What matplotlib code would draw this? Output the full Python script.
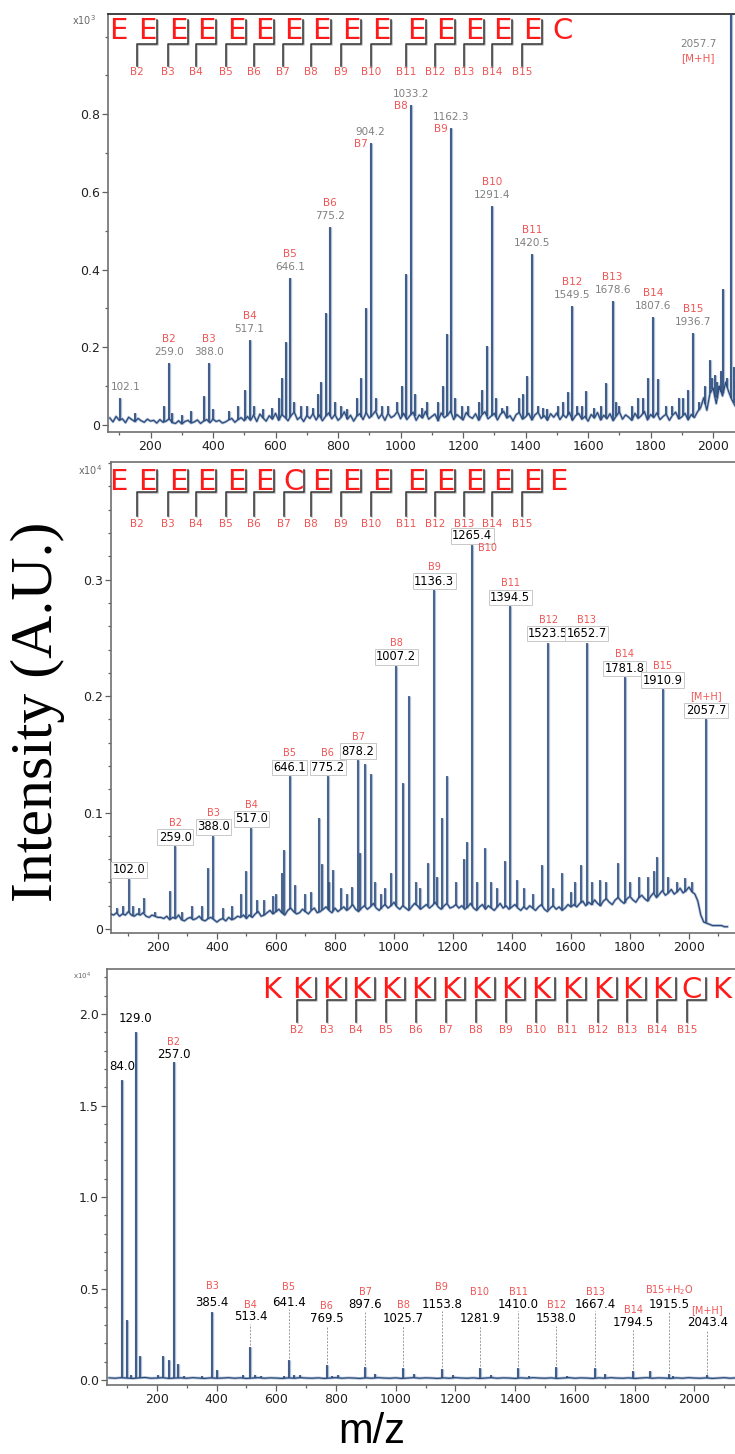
import numpy as np
import matplotlib
matplotlib.use("Agg")
import matplotlib.pyplot as plt
import matplotlib.patheffects as pe
import matplotlib.transforms as mtrans
from matplotlib.lines import Line2D
from matplotlib.ticker import MultipleLocator

# ---------------- panel A : EEEEEEEEEEEEEEEC (x10^3) ----------------
seq_a = "EEEEEEEEEEEEEEEC"
base_a_start, base_a_step = 70, 10
base_a = [18, 8, 22, 12, 16, 6, 20, 14, 9, 17, 11, 7, 15, 10,
          12, 5, 14, 7, 10, 16, 6, 4, 11, 3, 9, 12, 5, 8, 13, 4, 10, 14, 6, 15, 9, 12, 5, 8, 13, 17, 7, 14, 19, 11,
          22, 12, 26, 9, 28, 18, 10, 24, 15, 30, 12, 27, 20, 11, 25, 33, 14, 21, 9, 24, 17, 29, 13, 26, 11,
          22, 31, 16, 27, 12, 20, 34, 15, 25, 10, 23, 29, 14, 32, 18, 26, 36, 17, 28, 12, 30, 19, 24, 35, 16,
          30, 14, 24, 33, 12, 26, 18, 35, 15, 22, 28, 11, 31, 19, 25, 36, 14, 27, 20, 13, 32, 22, 17, 29, 12,
          26, 34, 16, 23, 30, 13, 28, 35, 18, 24, 11, 27, 32, 15, 21, 30, 13, 26, 33, 17, 24, 12, 29, 20, 31,
          14, 26, 19, 33, 12, 24, 30, 15, 22, 10, 27, 18, 32, 13, 25, 16, 29, 11, 23, 34, 15, 26, 20, 12, 30,
          17, 24, 35, 13, 27, 19, 31, 14, 22, 28, 12, 25, 33, 16, 21, 30, 13, 27, 19, 34,
          45, 70, 38, 82, 95, 55, 100, 75, 110, 85, 65, 50]
pk_a_mz = [150, 244, 270, 300, 330, 372, 400, 450, 480, 502, 530, 560, 590, 610, 620, 632, 660, 680,
           700, 720, 735, 745, 760, 790, 810, 830, 860, 875, 889, 920, 940, 960, 990, 1005, 1018, 1045,
           1070, 1085, 1120, 1135, 1147, 1175, 1195, 1215, 1250, 1262, 1276, 1305, 1325, 1340, 1380,
           1392, 1405, 1440, 1455, 1470, 1505, 1520, 1535, 1565, 1580, 1594, 1620, 1640, 1657, 1690,
           1700, 1740, 1760, 1775, 1792, 1823, 1850, 1870, 1890, 1905, 1921, 1955, 1975, 1990, 1998,
           2006, 2013, 2020, 2026, 2032, 2045, 2057.7, 2066]
pk_a_h = [0.03, 0.05, 0.03, 0.025, 0.035, 0.075, 0.04, 0.035, 0.05, 0.09, 0.05, 0.04, 0.045, 0.07,
          0.12, 0.214, 0.06, 0.05, 0.05, 0.045, 0.08, 0.11, 0.288, 0.06, 0.05, 0.04, 0.07, 0.12, 0.30,
          0.07, 0.05, 0.05, 0.06, 0.10, 0.39, 0.08, 0.045, 0.06, 0.06, 0.10, 0.234, 0.07, 0.05, 0.05,
          0.06, 0.09, 0.203, 0.07, 0.045, 0.05, 0.07, 0.08, 0.126, 0.05, 0.045, 0.04, 0.05, 0.06, 0.085,
          0.05, 0.05, 0.087, 0.045, 0.05, 0.108, 0.06, 0.05, 0.05, 0.07, 0.07, 0.12, 0.118, 0.05, 0.05,
          0.07, 0.07, 0.09, 0.06, 0.10, 0.167, 0.12, 0.13, 0.11, 0.09, 0.14, 0.35, 0.12, 1.25, 0.15]
lab_a_mz = [102.1, 259.0, 388.0, 517.1, 646.1, 775.2, 904.2, 1033.2, 1162.3, 1291.4, 1420.5,
            1549.5, 1678.6, 1807.6, 1936.7]
lab_a_h = [0.07, 0.16, 0.16, 0.22, 0.378, 0.51, 0.726, 0.824, 0.764, 0.564, 0.44, 0.306, 0.319,
           0.278, 0.237]
lab_a_ion = ["", "B2", "B3", "B4", "B5", "B6", "B7", "B8", "B9", "B10", "B11", "B12", "B13", "B14", "B15"]

# ---------------- panel B : EEEEEECEEEEEEEEE (x10^4) ----------------
seq_b = "EEEEEECEEEEEEEEE"
base_b_start, base_b_step = 40, 10
base_b = [13, 12, 14, 11, 13, 12, 15, 12, 11, 13, 12, 14, 11, 10, 12, 11, 10,
          10, 9, 11, 8, 10, 9, 12, 8, 7, 9, 10, 8, 9, 11, 8, 7, 9, 10, 8, 6, 8, 9, 7, 10, 8, 9, 11, 10, 12, 9,
          12, 10, 13, 15, 11, 12, 14, 16, 13, 15, 17, 14, 12, 16, 18, 15, 13, 14, 17, 15, 13, 16, 18, 14,
          15, 17, 19, 16, 14, 18,
          15, 17, 19, 16, 18, 21, 17, 15, 18, 20, 17, 19, 22, 18, 16, 19, 21, 18, 20, 23, 19, 17, 20, 18,
          16, 19, 22, 20, 17, 19, 21, 18, 20, 23, 19, 17, 20, 22, 18, 19,
          21, 18, 20, 17, 19, 22, 18, 16, 19, 21, 17, 20, 18, 16, 19, 22, 18, 20, 17, 19, 21, 18, 16, 19,
          17, 20, 18, 16, 19, 21, 17, 15, 18, 20, 17, 19, 16, 18, 21, 19,
          21, 19, 22, 24, 20, 23, 21, 25, 22, 20, 24, 26, 23, 21, 25, 27, 24, 22, 26, 28, 25, 23, 27, 29,
          26, 24, 28, 31, 27, 30, 33, 29, 31, 34, 30, 32, 35, 31, 33, 36, 32, 30,
          24, 12, 6, 5, 4, 3, 3, 3, 3, 2, 2]
pk_b_mz = [60, 80, 116, 135, 152, 190, 241, 280, 317, 350, 369, 420, 450, 481, 498, 536, 560, 590,
           600, 620, 627, 664, 700, 720, 747, 755, 780, 793, 820, 840, 858, 884, 902, 922, 935, 955,
           970, 990, 1031, 1051, 1075, 1090, 1115, 1145, 1162, 1180, 1210, 1236, 1246, 1280, 1308,
           1330, 1350, 1376, 1416, 1440, 1470, 1502, 1540, 1568, 1600, 1615, 1633, 1670, 1699, 1720,
           1759, 1800, 1830, 1860, 1880, 1893, 1930, 1960, 1985, 2010]
pk_b_h = [0.018, 0.02, 0.02, 0.018, 0.027, 0.015, 0.033, 0.015, 0.02, 0.02, 0.052, 0.018, 0.02,
          0.030, 0.050, 0.025, 0.025, 0.028, 0.03, 0.048, 0.068, 0.038, 0.03, 0.032, 0.095, 0.056, 0.04,
          0.051, 0.035, 0.03, 0.036, 0.065, 0.142, 0.133, 0.04, 0.03, 0.035, 0.048, 0.125, 0.20, 0.04,
          0.035, 0.057, 0.045, 0.095, 0.131, 0.04, 0.06, 0.075, 0.04, 0.07, 0.04, 0.035, 0.058, 0.042,
          0.035, 0.03, 0.055, 0.035, 0.048, 0.032, 0.04, 0.055, 0.04, 0.042, 0.04, 0.057, 0.04, 0.045,
          0.045, 0.05, 0.062, 0.045, 0.04, 0.044, 0.04]
lab_b_mz = [102.0, 259.0, 388.0, 517.0, 646.1, 775.2, 878.2, 1007.2, 1136.3, 1265.4, 1394.5,
            1523.5, 1652.7, 1781.8, 1910.9, 2057.7]
lab_b_h = [0.043, 0.071, 0.080, 0.087, 0.131, 0.131, 0.145, 0.226, 0.291, 0.33, 0.277, 0.246,
           0.246, 0.216, 0.206, 0.180]
lab_b_ion = ["", "B2", "B3", "B4", "B5", "B6", "B7", "B8", "B9", "B10", "B11", "B12", "B13", "B14",
             "B15", "[M+H]"]

# ---------------- panel C : KKKKKKKKKKKKKKCK (x10^4) ----------------
seq_c = "KKKKKKKKKKKKKKCK"
base_c_start, base_c_step = 40, 20
base_c = [12, 10, 13, 11, 9, 12, 14, 10, 11, 13, 9, 11, 12, 10, 13, 11, 9, 12, 10, 11, 13, 10, 12, 9,
          11, 13, 10, 12, 11, 9, 12, 10, 13, 11, 10, 12, 9, 11, 13, 10, 12, 11, 9, 12, 10, 13, 11, 10,
          12, 9, 11, 13, 10, 12, 11, 9, 12, 10, 13, 11, 10, 12, 9, 11, 13, 10, 12, 11, 9, 12, 10, 13,
          11, 10, 12, 9, 11, 13, 10, 12, 11, 9, 12, 10, 13, 11, 10, 12, 9, 11, 13, 10, 12, 11, 9, 12,
          10, 13, 11, 10, 12, 9, 11, 13, 10, 12]
pk_c_mz = [100, 112, 145, 205, 220, 240, 270, 290, 350, 402, 490, 530, 550, 625, 660, 680, 785, 805,
           930, 1060, 1190, 1320, 1445, 1575, 1700, 1850, 1930]
pk_c_h = [0.33, 0.03, 0.13, 0.03, 0.13, 0.11, 0.09, 0.02, 0.02, 0.055, 0.03, 0.03, 0.02, 0.02, 0.025,
          0.025, 0.02, 0.03, 0.035, 0.035, 0.03, 0.03, 0.02, 0.02, 0.035, 0.05, 0.02]
lab_c_mz = [84.0, 129.0, 257.0, 385.4, 513.4, 641.4, 769.5, 897.6, 1025.7, 1153.8, 1281.9, 1410.0,
            1538.0, 1667.4, 1794.5, 1915.5, 2043.4]
lab_c_h = [1.64, 1.90, 1.74, 0.37, 0.18, 0.11, 0.082, 0.07, 0.065, 0.06, 0.065, 0.065, 0.07, 0.065,
           0.05, 0.035, 0.025]
lab_c_ion = ["", "", "B2", "B3", "B4", "B5", "B6", "B7", "B8", "B9", "B10", "B11", "B12", "B13",
             "B14", r"B15+H$_2$O", "[M+H]"]

xtick_vals = [200, 400, 600, 800, 1000, 1200, 1400, 1600, 1800, 2000]

# ---------------- layout (pixels of the 735 x 1454 canvas) ----------------
W, H = 735, 1454
LINE = "#2b4b7c"
HALO = "#9fb1cb"
RED_ION = "#f05555"
RED_SEQ = "#ff1a1a"
GREY = "#808080"

fig = plt.figure(figsize=(W / 100, H / 100), dpi=100)


def fx(px):
    return px / W


def fy(py):
    return 1 - py / H


def add_axes(l, t, r, b):
    return fig.add_axes([fx(l), fy(b), fx(r) - fx(l), fy(t) - fy(b)])


def style(ax, xlim, ylim, yticks, ylabels, yminor):
    ax.set_xlim(*xlim)
    ax.set_ylim(*ylim)
    ax.set_xticks(xtick_vals)
    ax.xaxis.set_minor_locator(MultipleLocator(100))
    ax.set_yticks(yticks)
    ax.set_yticklabels(ylabels)
    ax.yaxis.set_minor_locator(MultipleLocator(yminor))
    ax.spines["right"].set_visible(False)
    for s in ("left", "bottom", "top"):
        ax.spines[s].set_color("#707070")
        ax.spines[s].set_linewidth(1.2)
    ax.tick_params(which="both", direction="out", color="#606060", labelcolor="#222222",
                   labelsize=9, width=0.9, pad=2)
    ax.tick_params(which="major", length=4)
    ax.tick_params(which="minor", length=2.5)


def draw_spectrum(ax, start, step, base, pk_mz, pk_h, lab_mz, lab_h, lw=1.1):
    bx = start + step * np.arange(len(base))
    by = np.array(base) / 1000.0
    mz = np.concatenate([pk_mz, lab_mz])
    h = np.concatenate([pk_h, lab_h])
    y0 = np.interp(mz, bx, by)
    ax.plot(bx, by, color=HALO, lw=2.0, zorder=2, alpha=0.8)
    ax.vlines(mz, y0, h, color=HALO, lw=lw + 1.2, zorder=2, alpha=0.8)
    ax.plot(bx, by, color=LINE, lw=0.9, zorder=3)
    ax.vlines(mz, y0, h, color=LINE, lw=lw, zorder=3)


def header(seq, xs, yc, fs, bar_dx, drop_dx, y_top, y_mid, y_bot, y_lab, skip_last=True):
    shadow = [pe.SimpleLineShadow(offset=(1.0, -1.0), shadow_color="#aaaaaa", alpha=0.8), pe.Normal()]
    for i, (ch, x) in enumerate(zip(seq, xs)):
        fig.text(fx(x), fy(yc), ch, color=RED_SEQ, fontsize=fs, ha="center", va="center",
                 family=["Liberation Sans Narrow", "DejaVu Sans"])
        if i == 0 or (skip_last and i == len(seq) - 1):
            continue
        xb, xd = x + bar_dx, x + drop_dx
        ln = Line2D([fx(xb), fx(xb), fx(xd), fx(xd)], [fy(y_top), fy(y_mid), fy(y_mid), fy(y_bot)],
                    color="#333333", lw=1.1, path_effects=shadow)
        fig.add_artist(ln)
        fig.text(fx(xd), fy(y_lab), "B%d" % (i + 1), color=RED_ION, fontsize=7.5, ha="center",
                 va="center")


PT = 0.72  # points per pixel at dpi 100

# ---------------- panel A ----------------
ax1 = add_axes(108, 14, 735, 432)
style(ax1, (64, 2070), (-0.018, 1.058), [0, 0.2, 0.4, 0.6, 0.8], ["0", "0.2", "0.4", "0.6", "0.8"], 0.1)
ax1.spines["top"].set_color("#222222")
draw_spectrum(ax1, base_a_start, base_a_step, base_a, pk_a_mz, pk_a_h, lab_a_mz, lab_a_h, lw=1.2)
for mz, h, ion in zip(lab_a_mz, lab_a_h, lab_a_ion):
    side = ion in ("B7", "B8", "B9")
    dx = 6 * PT if not ion else 0
    ax1.annotate("%.1f" % mz, (mz, h), xytext=(dx, 11 * PT), textcoords="offset points",
                 ha="center", va="center", fontsize=7.5, color=GREY)
    if ion:
        off = (-10 * PT, -1 * PT) if side else (0, 24 * PT)
        ax1.annotate(ion, (mz, h), xytext=off, textcoords="offset points", ha="center",
                     va="center", fontsize=7.5, color=RED_ION)
fig.text(fx(698), fy(44), "2057.7", fontsize=7.5, color=GREY, ha="center", va="center")
fig.text(fx(698), fy(58), "[M+H]", fontsize=7.5, color=RED_ION, ha="center", va="center")
fig.text(fx(84), fy(20), r"x10$^3$", fontsize=7, color="#666666", ha="center", va="center")
header(seq_a, [118, 147, 178, 206, 236, 264, 293, 321, 351, 381, 416, 445, 474, 502, 532, 563],
       31, 21, 10, -10, 20, 44, 66, 72)

# ---------------- panel B ----------------
ax2 = add_axes(111, 462, 735, 933)
style(ax2, (41, 2156), (-0.0034, 0.401), [0, 0.1, 0.2, 0.3], ["0", "0.1", "0.2", "0.3"], 0.02)
draw_spectrum(ax2, base_b_start, base_b_step, base_b, pk_b_mz, pk_b_h, lab_b_mz, lab_b_h)
box = dict(boxstyle="square,pad=0.12", fc="white", ec="#c8c8c8", lw=0.7)
for mz, h, ion in zip(lab_b_mz, lab_b_h, lab_b_ion):
    ax2.annotate("%.1f" % mz, (mz, h), xytext=(0, 9 * PT), textcoords="offset points",
                 ha="center", va="center", fontsize=8.3, color="black", bbox=box, zorder=5)
    if ion:
        off = (15 * PT, -3 * PT) if ion == "B10" else (0, 23 * PT)
        ax2.annotate(ion, (mz, h), xytext=off, textcoords="offset points", ha="center",
                     va="center", fontsize=7, color=RED_ION, zorder=6)
fig.text(fx(90), fy(470), r"x10$^4$", fontsize=7, color="#666666", ha="center", va="center")
header(seq_b, [118, 147, 178, 206, 236, 264, 294, 321, 351, 381, 416, 445, 474, 502, 532, 558],
       482, 21, 10, -10, 470, 492, 516, 524)

# ---------------- panel C ----------------
ax3 = add_axes(107, 969, 735, 1385)
style(ax3, (33, 2136), (-0.027, 2.246), [0, 0.5, 1.0, 1.5, 2.0], ["0.0", "0.5", "1.0", "1.5", "2.0"], 0.1)
draw_spectrum(ax3, base_c_start, base_c_step, base_c, pk_c_mz, pk_c_h, lab_c_mz, lab_c_h, lw=1.2)
bt = mtrans.blended_transform_factory(ax3.transData, fig.transFigure)
mass_y = [1066, 1018, 1055, 1302, 1317, 1302, 1319, 1304, 1319, 1304, 1319, 1304, 1319, 1304, 1323,
          1305, 1323]
ion_y = [0, 0, 1042, 1286, 1305, 1287, 1306, 1292, 1305, 1287, 1292, 1292, 1305, 1292, 1310, 1290, 1310]
for i, (mz, h, ion) in enumerate(zip(lab_c_mz, lab_c_h, lab_c_ion)):
    ax3.text(mz, fy(mass_y[i]), "%.1f" % mz, transform=bt, ha="center", va="center",
             fontsize=8.5, color="black")
    if ion:
        ax3.text(mz, fy(ion_y[i]), ion, transform=bt, ha="center", va="center", fontsize=7,
                 color=RED_ION)
    if i >= 4:
        top_val = ax3.transData.inverted().transform(fig.transFigure.transform((0, fy(mass_y[i] + 7))))[1]
        ax3.vlines(mz, h + 0.01, top_val, color="#9a9a9a", lw=0.7, linestyles=(0, (2, 1.5)), zorder=2)
fig.text(fx(82), fy(976), r"x10$^4$", fontsize=5, color="#666666", ha="center", va="center")
header(seq_c, [272, 302, 332, 361, 391, 421, 451, 481, 511, 541, 572, 603, 632, 662, 692, 722],
       990, 21, 14, -5, 978, 1000, 1022, 1030)

# ---------------- axis titles ----------------
fig.text(fx(38), fy(712), "Intensity (A.U.)", rotation=90, fontsize=43, ha="center", va="center",
         family="Liberation Serif")
fig.text(fx(372), fy(1432), "m/z", fontsize=30, ha="center", va="center", family="Liberation Sans")

fig.savefig("out.png", dpi=100)
